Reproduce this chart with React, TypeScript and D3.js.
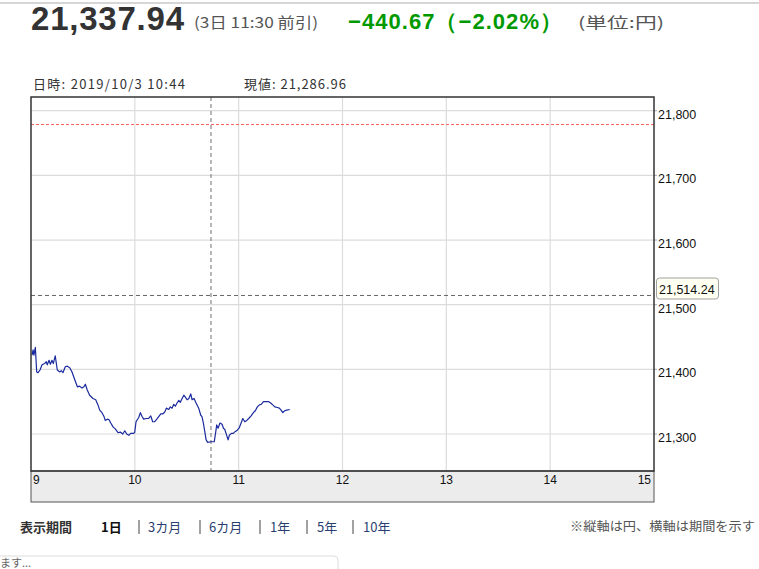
import React from "react";
import * as d3 from "d3";

// minutes after 9:00
const minutes = [0.6, 1.2, 1.7, 2.5, 3.3, 4.1, 5.2, 6.4, 7.9, 8.8, 9.4, 10.4, 11.2, 12.1, 12.9, 14.0, 15.2, 16.6, 17.5, 18.5, 19.8, 21.0, 22.5, 23.7, 25.3, 26.8, 28.1, 29.5, 30.6, 31.4, 32.5, 33.9, 35.8, 37.4, 38.7, 39.7, 41.0, 42.2, 42.9, 44.1, 45.1, 46.1, 47.4, 48.7, 50.3, 51.6, 53.0, 54.2, 55.3, 56.5, 57.6, 59.0, 59.9, 60.7, 62.3, 63.2, 64.2, 65.1, 66.5, 68.0, 69.2, 70.3, 71.5, 72.7, 73.8, 75.0, 76.1, 77.3, 78.2, 79.6, 80.5, 81.5, 82.5, 83.4, 84.4, 85.4, 86.3, 87.3, 88.3, 89.2, 90.2, 91.2, 92.3, 93.1, 94.2, 95.4, 96.9, 98.1, 98.8, 99.6, 100.4, 101.2, 102.1, 104.0, 105.9, 106.9, 107.3, 108.1, 109.2, 110.4, 111.2, 112.0, 112.7, 113.9, 114.6, 115.8, 116.9, 118.1, 119.2, 120.4, 121.4, 122.4, 123.5, 124.7, 125.8, 127.2, 128.5, 129.6, 130.8, 132.0, 133.1, 134.3, 135.8, 137.4, 138.5, 139.7, 140.9, 142.4, 143.5, 144.5, 145.5, 146.6, 147.8, 149.5];
const prices = [21422, 21430, 21422, 21434, 21396, 21395, 21399, 21407, 21409, 21412, 21407, 21414, 21408, 21414, 21409, 21421, 21399, 21396, 21398, 21395, 21404, 21405, 21402, 21396, 21384, 21373, 21374, 21371, 21373, 21377, 21368, 21360, 21355, 21353, 21345, 21337, 21333, 21327, 21321, 21323, 21322, 21317, 21311, 21308, 21302, 21303, 21300, 21305, 21300, 21298, 21301, 21301, 21302, 21319, 21326, 21333, 21327, 21323, 21324, 21324, 21328, 21319, 21319, 21323, 21327, 21331, 21331, 21334, 21340, 21338, 21342, 21340, 21346, 21343, 21348, 21352, 21349, 21355, 21360, 21357, 21353, 21355, 21362, 21353, 21355, 21348, 21340, 21329, 21327, 21317, 21304, 21291, 21287, 21288, 21288, 21306, 21314, 21309, 21317, 21315, 21309, 21307, 21301, 21291, 21298, 21301, 21301, 21304, 21306, 21310, 21317, 21324, 21319, 21321, 21324, 21328, 21333, 21336, 21342, 21345, 21346, 21350, 21350, 21350, 21348, 21345, 21342, 21341, 21340, 21337, 21333, 21336, 21337, 21337.94];

const hourTicks = [9, 10, 11, 12, 13, 14, 15];
const priceTicks = [21300, 21400, 21500, 21600, 21700, 21800];
const prevClose = 21778.61;
const refLevel = 21514.24;
const cursorMinute = 104;
const periods = ["3カ月", "6カ月", "1年", "5年", "10年"];

const JP = "'Noto Sans CJK JP', 'Liberation Sans', sans-serif";
const AR = "'Liberation Sans', Arial, sans-serif";

export default function App() {
  const left = 31, right = 654, top = 97, bottom = 471, bandBottom = 502;
  const x = d3.scaleLinear().domain([0, 360]).range([left, right]);
  const y = d3.scaleLinear().domain([21242.8, 21821.2]).range([bottom, top]);
  const line = d3
    .line<number>()
    .x((_, i) => x(minutes[i]))
    .y((d) => y(d));
  const fmt = d3.format(",");
  const periodX = [148, 209, 270, 317, 363];
  const barX = [137, 198, 258, 305, 351];

  return (
    <svg width={759} height={569} style={{ position: "absolute", left: 0, top: 0, background: "#fff" }}>
      <line x1={0} x2={759} y1={3} y2={3} stroke="#c8c8c8" strokeWidth={1.5} />
      {/* header */}
      <text x={31} y={30} fontFamily={AR} fontWeight="bold" fontSize={33} fill="#333" textLength={153} lengthAdjust="spacing">
        21,337.94
      </text>
      <text x={194} y={28} fontFamily={JP} fontSize={15} fill="#555" textLength={124} lengthAdjust="spacingAndGlyphs">
        (3日 11:30 前引)
      </text>
      <text x={348} y={29} fontFamily={AR} fontWeight="bold" fontSize={22} fill="#009900" textLength={214} lengthAdjust="spacing">
        −440.67（−2.02%）
      </text>
      <text x={578} y={28} fontFamily={JP} fontSize={15} fill="#555" textLength={86} lengthAdjust="spacingAndGlyphs">
        (単位:円)
      </text>
      {/* sub header */}
      <text x={33} y={89} fontFamily={JP} fontSize={13} fill="#333" textLength={152} lengthAdjust="spacing">
        日時: 2019/10/3  10:44
      </text>
      <text x={244} y={89} fontFamily={JP} fontSize={13} fill="#333" textLength={102} lengthAdjust="spacing">
        現値: 21,286.96
      </text>

      {/* gridlines */}
      {hourTicks.slice(1, -1).map((h) => (
        <line key={h} x1={x((h - 9) * 60)} x2={x((h - 9) * 60)} y1={top} y2={bottom} stroke="#dcdcdc" strokeWidth={1.2} />
      ))}
      {priceTicks.map((p) => (
        <g key={p}>
          <line x1={left} x2={right} y1={y(p)} y2={y(p)} stroke="#dcdcdc" strokeWidth={1.2} />
          <line x1={right} x2={right + 3} y1={y(p)} y2={y(p)} stroke="#9aaac0" strokeWidth={1} />
          <text x={658} y={y(p) + 8} fontFamily={AR} fontSize={12.5} fill="#111">
            {fmt(p)}
          </text>
        </g>
      ))}

      {/* reference lines */}
      <line x1={left} x2={right} y1={y(prevClose)} y2={y(prevClose)} stroke="#ff6060" strokeWidth={1} strokeDasharray="3,2" />
      <line x1={left} x2={right} y1={y(refLevel)} y2={y(refLevel)} stroke="#666" strokeWidth={1} strokeDasharray="4,3" />
      <line x1={x(cursorMinute)} x2={x(cursorMinute)} y1={top} y2={bottom} stroke="#888" strokeWidth={1.2} strokeDasharray="4,3" />

      {/* price line */}
      <path d={line(prices) || ""} fill="none" stroke="#1a2a9e" strokeWidth={1.2} strokeLinejoin="round" />

      {/* value box */}
      <rect x={656.5} y={278} width={62} height={21} rx={3} fill="#fffff2" stroke="#a0a0a0" />
      <text x={659} y={293.5} fontFamily={AR} fontSize={12.5} fill="#111">
        {d3.format(",.2f")(refLevel)}
      </text>

      {/* x axis band */}
      <rect x={left} y={bottom} width={right - left} height={bandBottom - bottom} fill="#ececec" stroke="#555" strokeWidth={1} />
      {hourTicks.map((h, i) => (
        <text
          key={h}
          x={i === 0 ? left + 2 : i === hourTicks.length - 1 ? right - 3 : x((h - 9) * 60)}
          y={484}
          fontFamily={AR}
          fontSize={12}
          fill="#111"
          textAnchor={i === 0 ? "start" : i === hourTicks.length - 1 ? "end" : "middle"}
        >
          {h}
        </text>
      ))}
      {/* plot frame */}
      <rect x={left} y={top} width={right - left} height={bottom - top} fill="none" stroke="#333" strokeWidth={1.5} />

      {/* period nav */}
      <text x={20} y={532} fontFamily={JP} fontWeight="bold" fontSize={13} fill="#333">
        表示期間
      </text>
      <text x={101} y={532} fontFamily={JP} fontWeight="bold" fontSize={13} fill="#111">
        1日
      </text>
      {periods.map((p, i) => (
        <g key={p}>
          <line x1={barX[i] + 2} x2={barX[i] + 2} y1={520} y2={534} stroke="#444" strokeWidth={1} />
          <text x={periodX[i]} y={532} fontFamily={JP} fontSize={13} fill="#2a3f6f">
            {p}
          </text>
        </g>
      ))}
      <text x={570} y={531} fontFamily={JP} fontSize={12.5} fill="#555" textLength={185} lengthAdjust="spacingAndGlyphs">
        ※縦軸は円、横軸は期間を示す
      </text>

      {/* lower box */}
      <rect x={-4} y={556} width={342} height={30} rx={4} fill="#fff" stroke="#dcdcdc" />
      <text x={0} y={567} fontFamily={JP} fontSize={11} fill="#666">
        ます...
      </text>
    </svg>
  );
}
